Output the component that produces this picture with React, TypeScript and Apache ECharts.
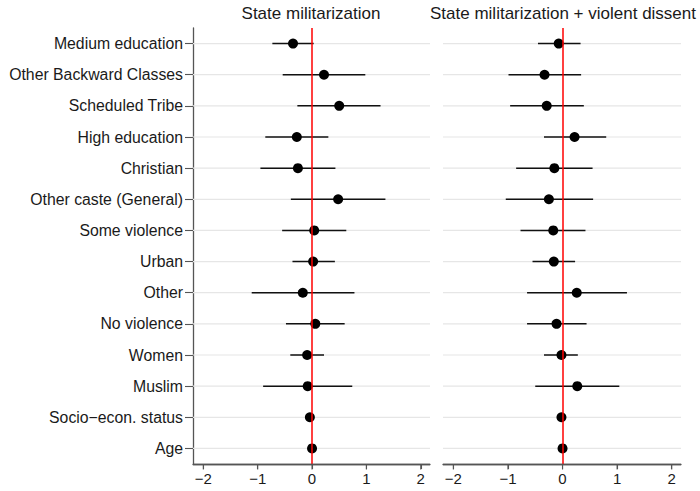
import React, { useEffect, useRef } from "react";
import * as echarts from "echarts";

const categories = [
  "Medium education",
  "Other Backward Classes",
  "Scheduled Tribe",
  "High education",
  "Christian",
  "Other caste (General)",
  "Some violence",
  "Urban",
  "Other",
  "No violence",
  "Women",
  "Muslim",
  "Socio\u2212econ. status",
  "Age",
];

const panelTitles = ["State militarization", "State militarization + violent dissent"];

// Panel 1: State militarization
const est1 = [-0.35, 0.22, 0.5, -0.28, -0.26, 0.48, 0.04, 0.02, -0.17, 0.06, -0.09, -0.08, -0.04, 0.0];
const lo1 = [-0.73, -0.54, -0.27, -0.86, -0.95, -0.39, -0.55, -0.36, -1.11, -0.48, -0.4, -0.9, -0.06, -0.02];
const hi1 = [0.03, 0.98, 1.26, 0.3, 0.43, 1.35, 0.63, 0.42, 0.78, 0.6, 0.22, 0.74, -0.02, 0.02];

// Panel 2: State militarization + violent dissent
const est2 = [-0.07, -0.33, -0.29, 0.22, -0.15, -0.25, -0.17, -0.16, 0.26, -0.11, -0.02, 0.27, -0.02, 0.0];
const lo2 = [-0.45, -0.99, -0.96, -0.34, -0.85, -1.04, -0.77, -0.55, -0.65, -0.65, -0.34, -0.5, -0.04, -0.02];
const hi2 = [0.33, 0.34, 0.39, 0.8, 0.55, 0.56, 0.42, 0.23, 1.18, 0.44, 0.28, 1.04, 0.0, 0.02];

const xTicks = [-2, -1, 0, 1, 2];
const xMin = -2.19;
const xMax = 2.17;

const FONT = "Liberation Sans, Arial, Helvetica, sans-serif";
const AXIS_COLOR = "#555";

function fmtTick(v: number) {
  return v < 0 ? "\u2212" + Math.abs(v) : String(v);
}

export default function App() {
  const ref = useRef<HTMLDivElement>(null);

  useEffect(() => {
    if (!ref.current) return;
    const chart = echarts.init(ref.current, undefined, { renderer: "svg" });

    const grids = [
      { left: 193, right: 270, top: 28, bottom: 27 },
      { left: 443, right: 19, top: 28, bottom: 27 },
    ];

    const xAxes = [0, 1].map((g) => ({
      type: "value",
      gridIndex: g,
      position: "bottom",
      min: xMin,
      max: xMax,
      splitLine: { show: false },
      axisLine: { show: true, onZero: false, lineStyle: { color: AXIS_COLOR, width: 1.3 } },
      axisTick: {
        show: true,
        length: 5,
        customValues: xTicks,
        lineStyle: { color: AXIS_COLOR, width: 1.1 },
      },
      axisLabel: {
        show: true,
        customValues: xTicks,
        formatter: (v: number) => fmtTick(v),
        color: "#1a1a1a",
        fontFamily: FONT,
        fontSize: 15,
        margin: 7,
      },
    }));

    const yAxes = [0, 1].map((g) => ({
      type: "category",
      gridIndex: g,
      position: "left",
      data: categories,
      inverse: true,
      boundaryGap: true,
      axisLine: { show: g === 0, onZero: false, lineStyle: { color: AXIS_COLOR, width: 1.3 } },
      axisTick: {
        show: g === 0,
        alignWithLabel: true,
        length: 8,
        lineStyle: { color: AXIS_COLOR, width: 1.1 },
      },
      axisLabel: {
        show: g === 0,
        color: "#1a1a1a",
        fontFamily: FONT,
        fontSize: 15.8,
        margin: 10,
      },
      splitLine: { show: false },
    }));

    const panels = [
      { est: est1, lo: lo1, hi: hi1 },
      { est: est2, lo: lo2, hi: hi2 },
    ];

    const series: any[] = [];
    panels.forEach((p, g) => {
      // horizontal gridlines at each category
      series.push({
        type: "custom",
        xAxisIndex: g,
        yAxisIndex: g,
        silent: true,
        data: categories.map((_, i) => [xMin, xMax, i]),
        encode: { x: [0, 1], y: 2 },
        renderItem: (params: any, api: any) => {
          const a = api.coord([api.value(0), api.value(2)]);
          const b = api.coord([api.value(1), api.value(2)]);
          return {
            type: "line",
            shape: { x1: a[0], y1: a[1], x2: b[0], y2: b[1] },
            style: { stroke: "#e6e6e6", lineWidth: 1.2 },
          };
        },
      });
      // bottom axis baseline and ticks, positioned by the grid / x scale
      series.push({
        type: "custom",
        xAxisIndex: g,
        yAxisIndex: g,
        silent: true,
        clip: false,
        z: 5,
        data: xTicks.map((v, i) => [v, i]),
        encode: { x: 0 },
        renderItem: (params: any, api: any) => {
          const cs = params.coordSys;
          const bottom = Math.round(cs.y + cs.height) + 0.5;
          const x = api.coord([api.value(0), 0])[0];
          const children: any[] = [
            {
              type: "line",
              shape: { x1: x, y1: bottom, x2: x, y2: bottom + 5 },
              style: { stroke: AXIS_COLOR, lineWidth: 1.1 },
            },
          ];
          if (params.dataIndex === 0) {
            children.push({
              type: "line",
              shape: { x1: cs.x, y1: bottom, x2: cs.x + cs.width, y2: bottom },
              style: { stroke: AXIS_COLOR, lineWidth: 1.3 },
            });
          }
          return { type: "group", children };
        },
      });
      // error bars
      series.push({
        type: "custom",
        xAxisIndex: g,
        yAxisIndex: g,
        silent: true,
        data: categories.map((_, i) => [p.lo[i], p.hi[i], i]),
        encode: { x: [0, 1], y: 2 },
        renderItem: (params: any, api: any) => {
          const a = api.coord([api.value(0), api.value(2)]);
          const b = api.coord([api.value(1), api.value(2)]);
          return {
            type: "line",
            shape: { x1: a[0], y1: a[1], x2: b[0], y2: b[1] },
            style: { stroke: "#111", lineWidth: 1.5 },
          };
        },
      });
      // zero reference line
      series.push({
        type: "scatter",
        xAxisIndex: g,
        yAxisIndex: g,
        data: [],
        markLine: {
          silent: true,
          symbol: "none",
          label: { show: false },
          lineStyle: { color: "#ff0000", width: 1.5, type: "solid" },
          data: [{ xAxis: 0 }],
        },
      });
      // point estimates
      series.push({
        type: "scatter",
        xAxisIndex: g,
        yAxisIndex: g,
        symbol: "circle",
        symbolSize: 10,
        itemStyle: { color: "#000", opacity: 1 },
        data: p.est.map((v, i) => [v, categories[i]]),
      });
    });

    chart.setOption({
      animation: false,
      title: panelTitles.map((t, i) => ({
        text: t,
        left: i === 0 ? 311 : 563,
        top: 5,
        textAlign: "center",
        padding: 0,
        textStyle: {
          fontFamily: FONT,
          fontSize: 17,
          fontWeight: "normal",
          color: "#1a1a1a",
        },
      })),
      grid: grids,
      xAxis: xAxes,
      yAxis: yAxes,
      series,
    });

    return () => chart.dispose();
  }, []);

  return (
    <div
      ref={ref}
      style={{ position: "fixed", left: 0, top: 0, width: 700, height: 491, background: "#fff" }}
    />
  );
}
